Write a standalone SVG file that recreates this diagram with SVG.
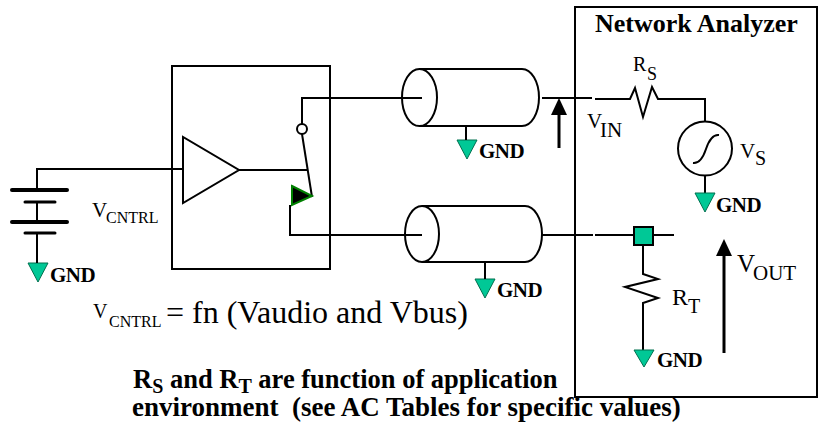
<svg xmlns="http://www.w3.org/2000/svg" width="821" height="435" viewBox="0 0 821 435">
<style>
.w{fill:none;stroke:#000;stroke-width:2}
.plate{stroke:#000;stroke-linecap:round}
.gnd{fill:#00C896;stroke:#00704f;stroke-width:1}
.g{font-weight:bold;font-size:21px;letter-spacing:-0.5px;fill:#000}
.b{font-weight:bold;fill:#000}
.arr{fill:none;stroke:#000;stroke-width:3}
</style>
<defs>
<marker id="ah" viewBox="0 0 17 16" refX="7" refY="8" markerWidth="17" markerHeight="16" markerUnits="userSpaceOnUse" orient="auto">
<path d="M0,0 L17,8 L0,16 z" fill="#000"/>
</marker>
</defs>
<rect width="821" height="435" fill="#fff"/>
<g font-family="'Liberation Serif', 'Times New Roman', serif">
<g id="battery">
<line class="plate" x1="12" y1="190" x2="67" y2="190" stroke-width="4"/>
<line class="plate" x1="25" y1="202" x2="55" y2="202" stroke-width="3"/>
<line class="plate" x1="12" y1="222" x2="67" y2="222" stroke-width="4"/>
<line class="plate" x1="25" y1="233" x2="55" y2="233" stroke-width="3"/>
<text x="92" y="217" font-size="21">V</text>
<text x="106" y="223" font-size="16">CNTRL</text>
</g>
<g id="gnd1">
<polygon class="gnd" points="28,263 48,263 38,282"/>
<text class="g" x="50" y="282">GND</text>
</g>

<g id="switchbox">
<rect class="w" x="172" y="66" width="158" height="203"/>
<polygon class="w" points="183,137 183,203 239,170" fill="#fff"/>
<circle class="w" cx="302" cy="129" r="5" fill="#fff"/>
<line class="w" x1="302" y1="134" x2="312" y2="197"/>
<polygon points="292,186 312,196 292,205" fill="#000" stroke="#008000" stroke-width="2"/>
</g>

<g id="coax1">
<path class="w" d="M419.5,69 H522 A17,28.5 0 0 1 522,126 H419.5"/>
<ellipse class="w" cx="419.5" cy="97.5" rx="17.5" ry="28.5" fill="#fff"/>
<polygon class="gnd" points="457,140 477,140 467,159"/>
<text class="g" x="479" y="158">GND</text>
</g>

<g id="coax2">
<path class="w" d="M422,206 H525 A17,28 0 0 1 525,262 H422"/>
<ellipse class="w" cx="422" cy="234" rx="17" ry="28" fill="#fff"/>
<polygon class="gnd" points="475,279 495,279 485,298"/>
<text class="g" x="497" y="297">GND</text>
</g>

<g id="analyzer">
<rect class="w" x="575" y="7" width="242" height="390"/>
<text class="b" x="595" y="32" font-size="26">Network Analyzer</text>
</g>

<g id="rs">
<polyline class="w" points="595,99 630,99 635,88 643,117 652,87 658,99 705,99 705,122"/>
<text x="633" y="71" font-size="20">R</text>
<text x="647" y="80" font-size="18">S</text>
</g>

<g id="vs">
<circle class="w" cx="705" cy="148.5" r="27" fill="#fff"/>
<path class="w" d="M693,163 Q701,164 706,149 T719,135"/>
<line class="w" x1="705" y1="175" x2="705" y2="193"/>
<polygon class="gnd" points="695,193 715,193 705,212"/>
<text class="g" x="716" y="212">GND</text>
<text x="740" y="158" font-size="21">V</text>
<text x="755" y="165" font-size="20">S</text>
</g>

<g id="node">
<rect x="634" y="227" width="19" height="18" fill="#00C896" stroke="#000" stroke-width="2"/>
</g>

<g id="rt">
<polyline class="w" points="643,245 643,274 658,279 625,287 658,298 643,303 643,350"/>
<polygon class="gnd" points="634,350 654,350 644,367"/>
<text class="g" x="657" y="367">GND</text>
<text x="672" y="305" font-size="24">R</text>
<text x="688" y="313" font-size="20">T</text>
</g>

<g id="connectors">
<polyline class="w" points="37,263 37,233"/>
<polyline class="w" points="37,202 37,222"/>
<polyline class="w" points="37,190 37,169 183,169"/>
<line class="w" x1="239" y1="170" x2="307" y2="170"/>
<polyline class="w" points="302,124 302,98 422,98"/>
<polyline class="w" points="290,205 290,235 422,235"/>
<line class="w" x1="466" y1="126" x2="466" y2="140"/>
<line class="w" x1="485" y1="262" x2="485" y2="279"/>
<line class="w" x1="542" y1="98" x2="592" y2="98"/>
<line class="w" x1="542" y1="235" x2="593" y2="235"/>
<line class="w" x1="595" y1="235" x2="634" y2="235"/>
<line class="w" x1="653" y1="235" x2="674" y2="235"/>
<line class="arr" x1="559" y1="148" x2="559" y2="108" marker-end="url(#ah)"/>
<line class="arr" x1="724" y1="353" x2="724" y2="249" marker-end="url(#ah)"/>
</g>

<g id="labels">
<text x="587" y="128" font-size="21">V</text>
<text x="600" y="137" font-size="21">IN</text>
<text x="737" y="272" font-size="25">V</text>
<text x="753" y="280" font-size="21">OUT</text>
<text x="93" y="318" font-size="20">V</text>
<text x="109" y="327" font-size="16">CNTRL</text>
<text x="166" y="323" font-size="32">= fn (Vaudio and Vbus)</text>
<text class="b" x="133" y="388" font-size="26.5">R<tspan font-size="20" dy="5">S</tspan><tspan dy="-5"> and R</tspan><tspan font-size="20" dy="5">T</tspan><tspan dy="-5"> are function of application</tspan></text>
<text class="b" x="132" y="416" font-size="27" style="white-space:pre">environment  (see AC Tables for specific values)</text>
</g>
</g>
</svg>
